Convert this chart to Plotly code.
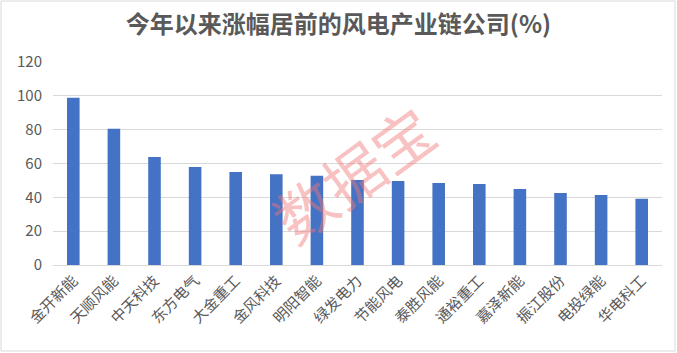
import plotly.graph_objects as go

categories = ["金开新能", "天顺风能", "中天科技", "东方电气", "大金重工", "金风科技", "明阳智能",
              "绿发电力", "节能风电", "泰胜风能", "通裕重工", "嘉泽新能", "振江股份", "电投绿能", "华电科工"]
values = [98.8, 80.5, 63.9, 58.0, 55.0, 53.7, 52.7, 50.3, 49.7, 48.5, 47.9, 45.0, 42.6, 41.4, 39.1]
y_ticks = [0, 20, 40, 60, 80, 100, 120]

FONT = "Noto Sans CJK SC, Microsoft YaHei, sans-serif"
W, H = 677, 353
L, R, T, B = 53, 15, 62, 88
pw, ph = W - L - R, H - T - B

fig = go.Figure(go.Bar(x=categories, y=values, marker_color="#4472C4", marker_line_width=0))

fig.update_layout(
    width=W, height=H,
    margin=dict(l=L, r=R, t=T, b=B),
    paper_bgcolor="white", plot_bgcolor="white",
    bargap=0.69,
    showlegend=False,
    font=dict(family=FONT, color="#595959"),
    title=dict(text="<b>今年以来涨幅居前的风电产业链公司(%)</b>", x=0.5, xanchor="center",
               y=1 - 25 / H, yanchor="middle", font=dict(size=24, color="#595959", family=FONT)),
)
fig.update_yaxes(range=[0, 120], tickvals=y_ticks, showgrid=True, gridcolor="#D9D9D9", gridwidth=1,
                 zeroline=False, showline=False, ticks="", ticklabelstandoff=10,
                 tickfont=dict(size=15, color="#595959"))
fig.update_xaxes(tickangle=-45, showline=True, linecolor="#D9D9D9", linewidth=1, ticks="",
                 tickfont=dict(size=15, color="#595959"))

# outer border
fig.add_shape(type="rect", xref="paper", yref="paper",
              x0=(1 - L) / pw, x1=(W - 2 - L) / pw, y0=-(B - 2) / ph, y1=(T - 1) / ph + 1,
              line=dict(color="#D9D9D9", width=1), fillcolor="rgba(0,0,0,0)", layer="below")

# watermark
fig.add_annotation(text="数据宝", xref="paper", yref="paper",
                   x=(352 - L) / pw, y=(265 - 172) / ph, showarrow=False, textangle=-36,
                   font=dict(size=60, color="rgba(240,120,120,0.45)", family=FONT))

fig.write_html("out.html")
